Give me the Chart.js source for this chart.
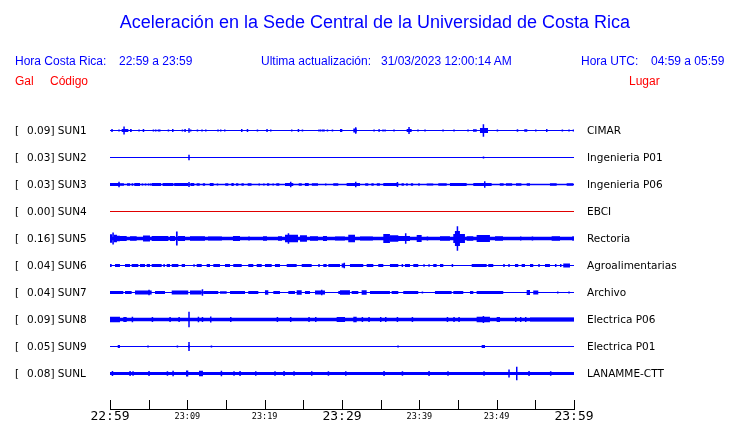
<!DOCTYPE html>
<html>
<head>
<meta charset="utf-8">
<title>Aceleración Sede Central UCR</title>
<script src="https://cdn.jsdelivr.net/npm/chart.js@4.4.0/dist/chart.umd.min.js"></script>
<style>
  body { margin: 0; background: #fff; }
  #wrap { position: relative; width: 740px; height: 423px; overflow: hidden; }
  #grafico { position: absolute; left: 0; top: 0; }
  .txt { position: absolute; white-space: pre; font-family: "Liberation Sans", Arial, sans-serif; font-size: 12px; line-height: 1; }
  .azul { color: #0000ff; }
  .rojo { color: #ff0000; }
  #titulo { left: 0; width: 750px; text-align: center; font-size: 18px; top: 12.5px; }
</style>
</head>
<body>
<div id="wrap">
  <canvas id="grafico" width="740" height="423"></canvas>
  <div id="titulo" class="txt azul">Aceleración en la Sede Central de la Universidad de Costa Rica</div>
  <div class="txt azul" style="left:15px; top:55px">Hora Costa Rica:</div>
  <div class="txt azul" style="left:119px; top:55px">22:59 a 23:59</div>
  <div class="txt azul" style="left:261px; top:55px">Ultima actualización:</div>
  <div class="txt azul" style="left:381px; top:55px">31/03/2023 12:00:14 AM</div>
  <div class="txt azul" style="left:581px; top:55px">Hora UTC:</div>
  <div class="txt azul" style="left:651px; top:55px">04:59 a 05:59</div>
  <div class="txt rojo" style="left:15px; top:75px">Gal</div>
  <div class="txt rojo" style="left:50px; top:75px">Código</div>
  <div class="txt rojo" style="left:629px; top:75px">Lugar</div>
</div>
<script>
// estaciones, de arriba hacia abajo
const stations = ["SUN1", "SUN2", "SUN3", "SUN4", "SUN5", "SUN6", "SUN7", "SUN8", "SUN9", "SUNL"];
const places = ["CIMAR", "Ingenieria P01", "Ingenieria P06", "EBCI", "Rectoria", "Agroalimentarias", "Archivo", "Electrica P06", "Electrica P01", "LANAMME-CTT"];
const peaks = [0.09, 0.03, 0.03, 0.00, 0.16, 0.04, 0.04, 0.09, 0.05, 0.08];

// nivel de ruido de fondo de cada traza (media amplitud)
const noise = [0.19, 0.19, 0.25, 0.19, 0.65, 0.19, 0.19, 0.68, 0.19, 0.6];

// eje de tiempo: minutos desde 22:59
const tickLabels = ["22:59", "", "23:09", "", "23:19", "", "23:29", "", "23:39", "", "23:49", "", "23:59"];
const bigLabels = ["22:59", "23:29", "23:59"];

// rafagas: [inicio, fin, amplitud] o [minuto, amplitud]
const sun1 = [[0.13,0.39,0.5],[1.07,0.4],[1.51,2.37,0.6],[1.72,1.5],[2.59,2.81,0.6],[3.66,0.4],[4.23,4.4,0.6],[5.52,0.4],[5.82,0.4],[6.17,0.4],[6.34,0.4],[7.46,0.4],[8.02,8.19,0.6],[9.27,0.4],[9.61,9.79,0.6],[10.12,0.8],[10.34,0.4],[11.21,0.4],[11.8,0.4],[12.29,0.4],[13.87,0.4],[14.22,0.4],[14.74,0.4],[16.94,17.11,0.6],[17.68,17.81,0.6],[18.97,0.4],[20.21,20.39,0.6],[20.69,0.4],[23.4,0.4],[24.27,24.44,0.6],[24.79,0.4],[26.93,0.4],[27.15,0.4],[27.41,0.4],[27.58,0.4],[28.02,0.4],[28.67,0.4],[29.74,30.04,0.6],[31.46,31.9,0.7],[31.68,1.2],[34.05,0.4],[34.69,34.91,0.5],[35.21,0.4],[35.47,0.4],[36.63,0.4],[38.36,39.01,0.6],[38.57,1.3],[39.73,0.4],[40.64,0.4],[42.97,0.4],[44.39,0.4],[46.2,0.4],[46.94,47.42,0.5],[47.84,48.88,0.9],[48.19,2.3],[50.0,0.4],[52.59,52.79,0.5],[53.57,53.96,0.5],[54.96,0.4],[56.38,0.6],[58.4,0.4],[59.26,0.4],[59.83,0.4]];
const sun2 = [[10.12,1.0],[48.2,0.4]];
const sun3 = [[0,1.29,0.6],[1.07,1.0],[1.3,1.8,0.5],[2.2,2.6,0.5],[2.8,3.0,0.5],[3.14,3.88,0.6],[4.1,0.4],[4.5,0.4],[4.9,0.4],[5.17,0.4],[5.4,6.6,0.6],[6.8,8.2,0.6],[8.3,10.1,0.6],[10.12,0.9],[10.4,10.9,0.6],[11.2,11.6,0.5],[12.0,12.3,0.5],[12.9,13.4,0.6],[13.8,14.0,0.4],[14.9,15.3,0.5],[15.7,16.0,0.6],[16.3,16.6,0.5],[17.0,17.3,0.5],[17.8,18.3,0.5],[19.2,0.4],[19.8,0.4],[20.3,20.6,0.5],[21.0,0.4],[21.5,21.9,0.5],[22.63,23.7,0.6],[23.27,1.0],[24.4,24.8,0.5],[25.2,25.7,0.6],[26.1,26.9,0.5],[27.8,0.4],[28.87,29.52,0.5],[30.6,32.33,0.6],[31.68,1.0],[33.0,33.4,0.5],[33.8,34.1,0.5],[34.5,34.9,0.5],[35.34,37.28,0.6],[37.07,0.9],[37.7,38.0,0.5],[38.3,38.5,0.5],[38.9,39.2,0.5],[39.86,0.5],[40.95,41.8,0.4],[42.45,43.54,0.5],[43.96,46.12,0.6],[46.98,49.35,0.6],[48.36,1.2],[50.4,50.9,0.5],[51.2,52.0,0.5],[52.5,53.2,0.5],[53.88,54.31,0.5],[56.89,57.76,0.5],[59.05,59.9,0.5]];
const sun4 = [];
const sun5 = [[0,0.3,1.6],[0.3,0.5,2.2],[0.5,0.9,1.4],[0.9,1.29,1.0],[1.29,2.16,0.9],[2.59,3.45,0.8],[4.27,5.17,1.1],[5.39,7.54,0.9],[7.76,8.4,0.9],[8.53,8.75,2.6],[8.79,9.7,0.9],[10.34,12.28,0.8],[12.67,14.48,0.7],[15.9,16.81,0.9],[17.88,0.7],[19.78,20.3,0.8],[21.72,22.24,0.8],[22.63,24.31,1.4],[22.98,1.9],[24.57,25.47,1.2],[25.86,26.9,0.8],[27.54,28.06,0.9],[29.09,30.38,0.7],[30.81,31.68,1.4],[32.33,34.0,0.7],[35.34,36.2,1.7],[36.2,37.28,1.2],[37.24,38.79,0.9],[38.14,1.9],[39.66,40.3,1.3],[40.95,0.7],[42.67,43.96,0.8],[44.39,45.9,1.7],[44.6,45.25,2.8],[44.83,4.5],[46.12,46.98,0.8],[47.41,49.13,1.3],[49.78,50.82,0.8],[53.01,0.7],[54.53,0.7],[57.11,58.19,0.8],[59.78,0.8]];
const sun6 = [[0,0.22,0.6],[0.65,1.29,0.6],[1.94,2.59,0.6],[2.8,3.66,0.6],[3.88,4.53,0.6],[4.74,5.17,0.6],[5.39,6.68,0.6],[6.9,0.6],[7.33,7.76,0.6],[7.98,8.84,0.6],[9.27,9.7,0.6],[10.77,0.5],[11.21,11.86,0.6],[12.5,12.93,0.6],[13.36,14.22,0.6],[14.87,15.52,0.6],[15.94,17.03,0.6],[17.88,18.53,0.6],[18.97,19.62,0.6],[20.04,20.91,0.6],[21.33,21.98,0.6],[22.85,24.14,0.6],[24.79,26.08,0.6],[26.93,0.6],[27.58,28.02,0.6],[28.23,29.74,0.6],[29.96,30.39,0.7],[30.2,1.0],[31.03,32.75,0.6],[33.19,34.05,0.6],[34.69,35.34,0.6],[36.2,37.28,0.6],[37.71,0.6],[38.14,38.79,0.6],[39.22,39.86,0.6],[40.51,0.5],[41.16,0.5],[41.8,42.24,0.6],[42.67,43.1,0.6],[44.18,0.6],[46.77,48.71,0.6],[48.91,49.56,0.6],[50.85,0.6],[51.5,0.6],[52.37,52.79,0.6],[53.23,53.66,0.6],[54.31,54.73,0.6],[55.38,0.6],[56.25,56.89,0.6],[57.54,0.6],[58.19,0.6],[58.61,59.48,0.7]];
const sun7 = [[0,1.72,0.6],[1.94,2.8,0.6],[3.23,5.39,0.7],[4.95,1.0],[5.82,7.11,0.6],[7.98,10.12,0.7],[10.34,11.86,0.7],[11.86,1.2],[12.06,14.0,0.6],[14.22,15.09,0.5],[15.52,17.46,0.6],[17.88,19.18,0.6],[20.04,20.47,0.8],[21.12,21.98,0.6],[23.06,23.92,0.6],[24.14,24.79,0.8],[25.21,25.86,0.6],[26.51,27.8,0.7],[27.28,1.0],[29.52,30.39,0.6],[29.74,31.03,0.8],[31.25,32.11,0.6],[32.54,33.19,0.8],[33.62,36.2,0.6],[36.42,37.28,0.6],[37.92,39.86,0.6],[40.3,0.4],[42.02,44.18,0.6],[44.39,45.68,0.6],[46.55,46.98,0.6],[47.41,50.85,0.6],[53.88,54.31,0.9],[54.73,55.38,0.7],[57.8,0.4],[59.26,0.4]];
const sun8 = [[0,1.29,1.0],[1.72,2.16,0.9],[2.8,1.0],[5.39,0.9],[7.67,0.9],[8.84,0.9],[10.12,2.9],[11.34,1.0],[11.86,0.9],[12.93,1.1],[15.52,0.9],[21.55,0.9],[23.27,0.9],[25.64,0.9],[26.51,0.9],[29.31,30.39,0.9],[31.46,31.9,1.0],[32.54,0.9],[33.4,0.9],[34.91,0.9],[35.56,0.9],[37.07,0.9],[39.01,0.9],[43.54,0.9],[44.39,0.9],[45.04,0.9],[47.41,49.13,1.0],[48.19,1.3],[50.0,50.43,0.9],[52.37,0.9],[53.01,0.9],[53.66,0.9],[54.31,60,0.75]];
const sun9 = [[1.0,1.29,0.55],[4.82,0.35],[8.62,0.35],[10.12,1.7],[10.12,10.3,0.45],[13.02,0.35],[37.15,0.35],[48.06,48.49,0.55]];
const sunl = [[0.22,0.9],[2.5,0.9],[2.88,0.8],[4.95,0.9],[7.33,0.8],[8.06,1.0],[9.83,10.12,1.1],[11.51,12.02,1.0],[14.31,1.0],[15.94,0.8],[16.72,0.9],[18.75,0.8],[21.24,0.8],[22.41,0.9],[23.7,0.8],[25.99,0.8],[28.15,0.8],[30.39,0.8],[35.34,0.9],[37.72,0.8],[41.16,0.9],[43.61,0.8],[48.27,0.8],[51.5,1.5],[52.5,2.5],[54.09,0.9],[56.89,0.8]];

const bursts = [sun1, sun2, sun3, sun4, sun5, sun6, sun7, sun8, sun9, sunl];

document.addEventListener("DOMContentLoaded", function () {

    const blue = "#0000ff";
    const red = "#e00000";

    // agrupar por amplitud: cada grupo es un dataset con su propio grosor
    const groups = new Map();
    function addBar(k, t0, t1, amp) {
        if (!groups.has(amp)) groups.set(amp, []);
        groups.get(amp).push({ x: [t0, t1], y: k * 10, k: k });
    }
    bursts.forEach(function (list, k) {
        addBar(k, 0, 60, noise[k]);
        list.forEach(function (b) {
            if (b.length === 2) addBar(k, b[0], b[0], b[1]);
            else addBar(k, b[0], b[1], b[2]);
        });
    });

    const datasets = [];
    Array.from(groups.keys()).sort(function (a, b) { return a - b; }).forEach(function (amp) {
        datasets.push({
            data: groups.get(amp),
            barThickness: function (ctx) {
                const ys = ctx.chart.scales.y;
                if (!ys) return 1;
                return Math.abs(ys.getPixelForValue(amp) - ys.getPixelForValue(0)) * 2;
            },
            backgroundColor: function (ctx) {
                return ctx.raw && ctx.raw.k === 3 ? red : blue;
            },
            borderWidth: 0,
            inflateAmount: 0,
            minBarLength: 1.5,
            grouped: false
        });
    });

    const marcas = {
        id: "marcas",
        afterDraw: function (chart) {
            const xs = chart.scales.x;
            const ys = chart.scales.y;
            const c = chart.ctx;
            c.save();
            c.strokeStyle = "#000";
            c.lineWidth = 1;
            xs.ticks.forEach(function (t) {
                const px = Math.round(xs.getPixelForValue(t.value)) + 0.5;
                c.beginPath();
                c.moveTo(px, xs.top - 9);
                c.lineTo(px, xs.top);
                c.stroke();
            });
            c.font = '10.5px "DejaVu Sans"';
            c.fillStyle = "#000";
            c.textBaseline = "middle";
            c.textAlign = "left";
            stations.forEach(function (s, k) {
                const py = ys.getPixelForValue(k * 10) + 0.5;
                c.fillText("[", 15, py);
                c.fillText(peaks[k].toFixed(2) + "] " + s, 27, py);
                c.fillText(places[k], xs.right + 13, py);
            });
            c.restore();
        }
    };

    new Chart(document.getElementById("grafico"), {
        type: "bar",
        data: { datasets: datasets },
        options: {
            indexAxis: "y",
            responsive: false,
            animation: false,
            events: [],
            layout: { padding: { left: 110, right: 166, top: 103.5, bottom: 0 } },
            plugins: { legend: { display: false }, tooltip: { enabled: false } },
            scales: {
                x: {
                    type: "linear",
                    min: 0,
                    max: 60,
                    offset: false,
                    grid: { display: false, drawTicks: false },
                    border: { display: true, color: "#000", width: 1 },
                    afterFit: function (s) { s.height = 14; },
                    ticks: {
                        stepSize: 5,
                        autoSkip: false,
                        maxRotation: 0,
                        padding: 0,
                        color: "#000",
                        callback: function (v, i) { return tickLabels[i]; },
                        font: function (ctx) {
                            const big = bigLabels.indexOf(tickLabels[ctx.index]) >= 0;
                            return big ? { family: "DejaVu Sans Mono", size: 13, lineHeight: 1.1 }
                                       : { family: "DejaVu Sans Mono", size: 8.5, lineHeight: 1.75 };
                        }
                    }
                },
                y: { type: "linear", display: false, reverse: true, offset: false, grid: { offset: false }, min: -10, max: 103.15 }
            }
        },
        plugins: [marcas]
    });
});
</script>
</body>
</html>
